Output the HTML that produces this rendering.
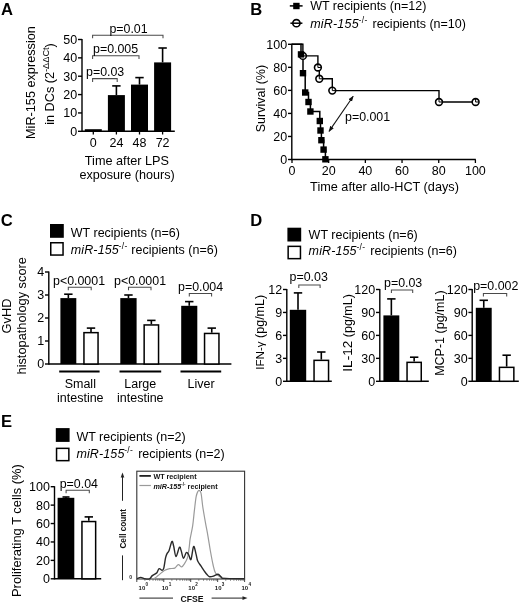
<!DOCTYPE html>
<html><head><meta charset="utf-8"><style>
html,body{margin:0;padding:0;background:#fff;width:520px;height:603px;overflow:hidden}
svg{display:block;filter:blur(0.4px)}
text{font-family:"Liberation Sans", sans-serif}
</style></head><body>
<svg width="520" height="603" viewBox="0 0 520 603" font-family='"Liberation Sans", sans-serif'>
<rect width="520" height="603" fill="#fff"/>
<text x="0.90" y="15.00" font-size="16.6" text-anchor="start" font-weight="bold" font-style="normal" fill="#000" >A</text>
<line x1="82.00" y1="39.00" x2="82.00" y2="132.00" stroke="#000" stroke-width="1.4" />
<line x1="78.00" y1="131.30" x2="82.00" y2="131.30" stroke="#000" stroke-width="1.4" />
<text x="77.20" y="135.78" font-size="12.5" text-anchor="end" font-weight="normal" font-style="normal" fill="#000" >0</text>
<line x1="78.00" y1="112.94" x2="82.00" y2="112.94" stroke="#000" stroke-width="1.4" />
<text x="77.20" y="117.42" font-size="12.5" text-anchor="end" font-weight="normal" font-style="normal" fill="#000" >10</text>
<line x1="78.00" y1="94.58" x2="82.00" y2="94.58" stroke="#000" stroke-width="1.4" />
<text x="77.20" y="99.06" font-size="12.5" text-anchor="end" font-weight="normal" font-style="normal" fill="#000" >20</text>
<line x1="78.00" y1="76.22" x2="82.00" y2="76.22" stroke="#000" stroke-width="1.4" />
<text x="77.20" y="80.69" font-size="12.5" text-anchor="end" font-weight="normal" font-style="normal" fill="#000" >30</text>
<line x1="78.00" y1="57.86" x2="82.00" y2="57.86" stroke="#000" stroke-width="1.4" />
<text x="77.20" y="62.34" font-size="12.5" text-anchor="end" font-weight="normal" font-style="normal" fill="#000" >40</text>
<line x1="78.00" y1="39.50" x2="82.00" y2="39.50" stroke="#000" stroke-width="1.4" />
<text x="77.20" y="43.98" font-size="12.5" text-anchor="end" font-weight="normal" font-style="normal" fill="#000" >50</text>
<line x1="82.00" y1="131.30" x2="174.80" y2="131.30" stroke="#000" stroke-width="1.4" />
<line x1="93.30" y1="131.30" x2="93.30" y2="134.50" stroke="#000" stroke-width="1.3" />
<text x="93.30" y="146.60" font-size="12.5" text-anchor="middle" font-weight="normal" font-style="normal" fill="#000" >0</text>
<line x1="116.40" y1="131.30" x2="116.40" y2="134.50" stroke="#000" stroke-width="1.3" />
<text x="116.40" y="146.60" font-size="12.5" text-anchor="middle" font-weight="normal" font-style="normal" fill="#000" >24</text>
<line x1="139.50" y1="131.30" x2="139.50" y2="134.50" stroke="#000" stroke-width="1.3" />
<text x="139.50" y="146.60" font-size="12.5" text-anchor="middle" font-weight="normal" font-style="normal" fill="#000" >48</text>
<line x1="162.60" y1="131.30" x2="162.60" y2="134.50" stroke="#000" stroke-width="1.3" />
<text x="162.60" y="146.60" font-size="12.5" text-anchor="middle" font-weight="normal" font-style="normal" fill="#000" >72</text>
<rect x="84.80" y="129.20" width="17.00" height="2.10" fill="#000" stroke="none" stroke-width="0"/>
<rect x="107.90" y="95.10" width="17.00" height="36.20" fill="#000" stroke="none" stroke-width="0"/>
<line x1="116.40" y1="95.10" x2="116.40" y2="85.90" stroke="#000" stroke-width="1.6" />
<line x1="112.20" y1="85.90" x2="120.60" y2="85.90" stroke="#000" stroke-width="1.6" />
<rect x="131.00" y="84.60" width="17.00" height="46.70" fill="#000" stroke="none" stroke-width="0"/>
<line x1="139.50" y1="84.60" x2="139.50" y2="77.60" stroke="#000" stroke-width="1.6" />
<line x1="135.30" y1="77.60" x2="143.70" y2="77.60" stroke="#000" stroke-width="1.6" />
<rect x="154.10" y="62.40" width="17.00" height="68.90" fill="#000" stroke="none" stroke-width="0"/>
<line x1="162.60" y1="62.40" x2="162.60" y2="48.00" stroke="#000" stroke-width="1.6" />
<line x1="158.40" y1="48.00" x2="166.80" y2="48.00" stroke="#000" stroke-width="1.6" />
<path d="M92.60,82.00 V78.60 H117.20 V82.00" fill="none" stroke="#4a4a4a" stroke-width="1.05"/>
<path d="M92.60,58.90 V55.70 H139.00 V58.90" fill="none" stroke="#4a4a4a" stroke-width="1.05"/>
<path d="M92.60,38.30 V35.30 H163.00 V38.30" fill="none" stroke="#4a4a4a" stroke-width="1.05"/>
<text x="86.00" y="75.90" font-size="12.4" text-anchor="start" font-weight="normal" font-style="normal" fill="#000" >p=0.03</text>
<text x="93.00" y="53.00" font-size="12.4" text-anchor="start" font-weight="normal" font-style="normal" fill="#000" >p=0.005</text>
<text x="109.40" y="32.80" font-size="12.4" text-anchor="start" font-weight="normal" font-style="normal" fill="#000" >p=0.01</text>
<text x="126.90" y="165.00" font-size="12.7" text-anchor="middle" font-weight="normal" font-style="normal" fill="#000" >Time after LPS</text>
<text x="127.10" y="178.70" font-size="12.6" text-anchor="middle" font-weight="normal" font-style="normal" fill="#000" >exposure (hours)</text>
<text transform="translate(35.20,82.60) rotate(-90)" x="0" y="0" font-size="12.7" text-anchor="middle" >MiR-155 expression</text>
<text transform="translate(53.70,84.00) rotate(-90)" x="0" y="0" font-size="12.7" text-anchor="middle" >in DCs (2<tspan font-size="9.2" dy="-5.2">-ΔΔCt</tspan><tspan dy="5.2">)</tspan></text>
<text x="250.20" y="15.00" font-size="16.6" text-anchor="start" font-weight="bold" font-style="normal" fill="#000" >B</text>
<line x1="289.80" y1="5.90" x2="302.60" y2="5.90" stroke="#000" stroke-width="1.5" />
<rect x="293.20" y="2.80" width="6.40" height="6.40" fill="#000" stroke="none" stroke-width="0"/>
<text x="310.20" y="10.30" font-size="12.5" text-anchor="start" font-weight="normal" font-style="normal" fill="#000" >WT recipients (n=12)</text>
<line x1="290.40" y1="23.20" x2="302.40" y2="23.20" stroke="#000" stroke-width="1.5" />
<circle cx="296.4" cy="23.2" r="3.6" fill="#fff" stroke="#000" stroke-width="1.6"/>
<line x1="292.80" y1="23.20" x2="300.00" y2="23.20" stroke="#000" stroke-width="1.5" />
<text x="310.20" y="27.80" font-size="12.5" text-anchor="start" font-weight="normal" font-style="normal" fill="#000" ><tspan font-style="italic" letter-spacing="0.2">miR-155</tspan><tspan font-size="8.5" dy="-4.9" dx="-0.3" letter-spacing="0.35">-/-</tspan><tspan dy="4.9" dx="1.4"> recipients (n=10)</tspan></text>
<line x1="291.80" y1="43.80" x2="291.80" y2="160.20" stroke="#000" stroke-width="1.4" />
<line x1="288.00" y1="159.50" x2="291.80" y2="159.50" stroke="#000" stroke-width="1.4" />
<text x="287.20" y="163.97" font-size="12.5" text-anchor="end" font-weight="normal" font-style="normal" fill="#000" >0</text>
<line x1="288.00" y1="136.46" x2="291.80" y2="136.46" stroke="#000" stroke-width="1.4" />
<text x="287.20" y="140.94" font-size="12.5" text-anchor="end" font-weight="normal" font-style="normal" fill="#000" >20</text>
<line x1="288.00" y1="113.42" x2="291.80" y2="113.42" stroke="#000" stroke-width="1.4" />
<text x="287.20" y="117.89" font-size="12.5" text-anchor="end" font-weight="normal" font-style="normal" fill="#000" >40</text>
<line x1="288.00" y1="90.38" x2="291.80" y2="90.38" stroke="#000" stroke-width="1.4" />
<text x="287.20" y="94.86" font-size="12.5" text-anchor="end" font-weight="normal" font-style="normal" fill="#000" >60</text>
<line x1="288.00" y1="67.34" x2="291.80" y2="67.34" stroke="#000" stroke-width="1.4" />
<text x="287.20" y="71.81" font-size="12.5" text-anchor="end" font-weight="normal" font-style="normal" fill="#000" >80</text>
<line x1="288.00" y1="44.30" x2="291.80" y2="44.30" stroke="#000" stroke-width="1.4" />
<text x="287.20" y="48.78" font-size="12.5" text-anchor="end" font-weight="normal" font-style="normal" fill="#000" >100</text>
<line x1="291.80" y1="159.50" x2="475.80" y2="159.50" stroke="#000" stroke-width="1.4" />
<line x1="292.00" y1="159.50" x2="292.00" y2="163.00" stroke="#000" stroke-width="1.3" />
<text x="292.00" y="175.30" font-size="12.5" text-anchor="middle" font-weight="normal" font-style="normal" fill="#000" >0</text>
<line x1="328.68" y1="159.50" x2="328.68" y2="163.00" stroke="#000" stroke-width="1.3" />
<text x="328.68" y="175.30" font-size="12.5" text-anchor="middle" font-weight="normal" font-style="normal" fill="#000" >20</text>
<line x1="365.36" y1="159.50" x2="365.36" y2="163.00" stroke="#000" stroke-width="1.3" />
<text x="365.36" y="175.30" font-size="12.5" text-anchor="middle" font-weight="normal" font-style="normal" fill="#000" >40</text>
<line x1="402.04" y1="159.50" x2="402.04" y2="163.00" stroke="#000" stroke-width="1.3" />
<text x="402.04" y="175.30" font-size="12.5" text-anchor="middle" font-weight="normal" font-style="normal" fill="#000" >60</text>
<line x1="438.72" y1="159.50" x2="438.72" y2="163.00" stroke="#000" stroke-width="1.3" />
<text x="438.72" y="175.30" font-size="12.5" text-anchor="middle" font-weight="normal" font-style="normal" fill="#000" >80</text>
<line x1="475.40" y1="159.50" x2="475.40" y2="163.00" stroke="#000" stroke-width="1.3" />
<text x="475.40" y="175.30" font-size="12.5" text-anchor="middle" font-weight="normal" font-style="normal" fill="#000" >100</text>
<text x="384.50" y="191.40" font-size="12.7" text-anchor="middle" font-weight="normal" font-style="normal" fill="#000" >Time after allo-HCT (days)</text>
<text transform="translate(265.40,98.60) rotate(-90)" x="0" y="0" font-size="12.5" text-anchor="middle" >Survival (%)</text>
<path d="M291.8,44.3 H302.9 V55.9 H317.9 V67.5 H319.3 V78.8 H332.3 V90.6 H439.0 V102.0 H475.6" fill="none" stroke="#000" stroke-width="1.4"/>
<path d="M291.8,44.3 H302.4 H301.0 V54.4 H303.0 V73.2 H305.2 V92.5 H308.5 V102.0 H310.4 V111.5 H319.8 V121.0 H320.5 V130.5 H321.4 V140.2 H323.6 V149.6 H325.4 V159.3" fill="none" stroke="#000" stroke-width="1.5"/>
<circle cx="302.9" cy="55.9" r="3.4" fill="#fff" stroke="#000" stroke-width="1.6"/>
<path d="M302.9,52.9 V55.9 H305.9" fill="none" stroke="#000" stroke-width="1"/>
<circle cx="317.9" cy="67.5" r="3.4" fill="#fff" stroke="#000" stroke-width="1.6"/>
<path d="M317.9,64.5 V67.5 H320.9" fill="none" stroke="#000" stroke-width="1"/>
<circle cx="319.3" cy="78.8" r="3.4" fill="#fff" stroke="#000" stroke-width="1.6"/>
<path d="M319.3,75.8 V78.8 H322.3" fill="none" stroke="#000" stroke-width="1"/>
<circle cx="332.3" cy="90.6" r="3.4" fill="#fff" stroke="#000" stroke-width="1.6"/>
<path d="M332.3,87.6 V90.6 H335.3" fill="none" stroke="#000" stroke-width="1"/>
<circle cx="439.0" cy="102.0" r="3.4" fill="#fff" stroke="#000" stroke-width="1.6"/>
<path d="M439.0,99.0 V102.0 H442.0" fill="none" stroke="#000" stroke-width="1"/>
<circle cx="475.6" cy="102.0" r="3.4" fill="#fff" stroke="#000" stroke-width="1.6"/>
<path d="M475.6,99.0 V102.0 H478.6" fill="none" stroke="#000" stroke-width="1"/>
<rect x="297.80" y="51.20" width="6.40" height="6.40" fill="#000" stroke="none" stroke-width="0"/>
<rect x="299.80" y="70.00" width="6.40" height="6.40" fill="#000" stroke="none" stroke-width="0"/>
<rect x="302.00" y="89.30" width="6.40" height="6.40" fill="#000" stroke="none" stroke-width="0"/>
<rect x="305.30" y="98.80" width="6.40" height="6.40" fill="#000" stroke="none" stroke-width="0"/>
<rect x="307.20" y="108.30" width="6.40" height="6.40" fill="#000" stroke="none" stroke-width="0"/>
<rect x="316.60" y="117.80" width="6.40" height="6.40" fill="#000" stroke="none" stroke-width="0"/>
<rect x="317.30" y="127.30" width="6.40" height="6.40" fill="#000" stroke="none" stroke-width="0"/>
<rect x="318.20" y="137.00" width="6.40" height="6.40" fill="#000" stroke="none" stroke-width="0"/>
<rect x="320.40" y="146.40" width="6.40" height="6.40" fill="#000" stroke="none" stroke-width="0"/>
<rect x="322.20" y="156.10" width="6.40" height="6.40" fill="#000" stroke="none" stroke-width="0"/>
<defs><marker id="ah" viewBox="0 0 10 10" refX="9" refY="5" markerWidth="5.6" markerHeight="5.6" orient="auto-start-reverse"><path d="M0,1.4 L10,5 L0,8.6 z" fill="#111"/></marker></defs>
<line x1="329.0" y1="131.4" x2="353.2" y2="96.2" stroke="#111" stroke-width="1.05" marker-start="url(#ah)" marker-end="url(#ah)"/>
<text x="345.00" y="120.70" font-size="12.4" text-anchor="start" font-weight="normal" font-style="normal" fill="#000" >p=0.001</text>
<text x="0.70" y="226.30" font-size="16.6" text-anchor="start" font-weight="bold" font-style="normal" fill="#000" >C</text>
<rect x="50.00" y="224.00" width="13.80" height="13.80" fill="#000" stroke="none" stroke-width="0"/>
<rect x="50.75" y="242.75" width="12.30" height="12.30" fill="#fff" stroke="#000" stroke-width="1.5"/>
<text x="70.80" y="237.30" font-size="12.5" text-anchor="start" font-weight="normal" font-style="normal" fill="#000" >WT recipients (n=6)</text>
<text x="70.80" y="253.60" font-size="12.5" text-anchor="start" font-weight="normal" font-style="normal" fill="#000" ><tspan font-style="italic" letter-spacing="0.12">miR-155</tspan><tspan font-size="8.5" dy="-4.9" dx="-0.3" letter-spacing="0.35">-/-</tspan><tspan dy="4.9" dx="0.2"> recipients (n=6)</tspan></text>
<line x1="48.80" y1="271.40" x2="48.80" y2="364.70" stroke="#000" stroke-width="1.4" />
<line x1="45.00" y1="364.00" x2="48.80" y2="364.00" stroke="#000" stroke-width="1.4" />
<text x="44.20" y="368.48" font-size="12.5" text-anchor="end" font-weight="normal" font-style="normal" fill="#000" >0</text>
<line x1="45.00" y1="341.00" x2="48.80" y2="341.00" stroke="#000" stroke-width="1.4" />
<text x="44.20" y="345.48" font-size="12.5" text-anchor="end" font-weight="normal" font-style="normal" fill="#000" >1</text>
<line x1="45.00" y1="318.00" x2="48.80" y2="318.00" stroke="#000" stroke-width="1.4" />
<text x="44.20" y="322.48" font-size="12.5" text-anchor="end" font-weight="normal" font-style="normal" fill="#000" >2</text>
<line x1="45.00" y1="295.00" x2="48.80" y2="295.00" stroke="#000" stroke-width="1.4" />
<text x="44.20" y="299.48" font-size="12.5" text-anchor="end" font-weight="normal" font-style="normal" fill="#000" >3</text>
<line x1="45.00" y1="272.00" x2="48.80" y2="272.00" stroke="#000" stroke-width="1.4" />
<text x="44.20" y="276.48" font-size="12.5" text-anchor="end" font-weight="normal" font-style="normal" fill="#000" >4</text>
<line x1="48.80" y1="364.00" x2="231.40" y2="364.00" stroke="#000" stroke-width="1.4" />
<rect x="60.40" y="298.10" width="15.90" height="65.90" fill="#000" stroke="none" stroke-width="0"/>
<line x1="68.35" y1="298.10" x2="68.35" y2="294.20" stroke="#000" stroke-width="1.6" />
<line x1="64.15" y1="294.20" x2="72.55" y2="294.20" stroke="#000" stroke-width="1.6" />
<rect x="83.95" y="332.65" width="14.10" height="31.35" fill="#fff" stroke="#000" stroke-width="1.5"/>
<line x1="91.00" y1="331.90" x2="91.00" y2="328.10" stroke="#000" stroke-width="1.6" />
<line x1="86.80" y1="328.10" x2="95.20" y2="328.10" stroke="#000" stroke-width="1.6" />
<rect x="120.30" y="298.10" width="16.30" height="65.90" fill="#000" stroke="none" stroke-width="0"/>
<line x1="128.45" y1="298.10" x2="128.45" y2="295.00" stroke="#000" stroke-width="1.6" />
<line x1="124.25" y1="295.00" x2="132.65" y2="295.00" stroke="#000" stroke-width="1.6" />
<rect x="144.15" y="324.95" width="14.40" height="39.05" fill="#fff" stroke="#000" stroke-width="1.5"/>
<line x1="151.35" y1="324.20" x2="151.35" y2="320.40" stroke="#000" stroke-width="1.6" />
<line x1="147.15" y1="320.40" x2="155.55" y2="320.40" stroke="#000" stroke-width="1.6" />
<rect x="181.20" y="305.80" width="16.10" height="58.20" fill="#000" stroke="none" stroke-width="0"/>
<line x1="189.25" y1="305.80" x2="189.25" y2="301.60" stroke="#000" stroke-width="1.6" />
<line x1="185.05" y1="301.60" x2="193.45" y2="301.60" stroke="#000" stroke-width="1.6" />
<rect x="204.55" y="333.45" width="14.40" height="30.55" fill="#fff" stroke="#000" stroke-width="1.5"/>
<line x1="211.75" y1="332.70" x2="211.75" y2="328.10" stroke="#000" stroke-width="1.6" />
<line x1="207.55" y1="328.10" x2="215.95" y2="328.10" stroke="#000" stroke-width="1.6" />
<path d="M68.30,290.30 V287.30 H91.20 V290.30" fill="none" stroke="#4a4a4a" stroke-width="1.05"/>
<path d="M128.50,290.30 V287.30 H151.00 V290.30" fill="none" stroke="#4a4a4a" stroke-width="1.05"/>
<path d="M189.30,296.50 V293.50 H211.60 V296.50" fill="none" stroke="#4a4a4a" stroke-width="1.05"/>
<text x="53.00" y="285.10" font-size="12.4" text-anchor="start" font-weight="normal" font-style="normal" fill="#000" >p&lt;0.0001</text>
<text x="114.00" y="285.10" font-size="12.4" text-anchor="start" font-weight="normal" font-style="normal" fill="#000" >p&lt;0.0001</text>
<text x="178.00" y="290.50" font-size="12.4" text-anchor="start" font-weight="normal" font-style="normal" fill="#000" >p=0.004</text>
<line x1="59.20" y1="371.50" x2="99.60" y2="371.50" stroke="#000" stroke-width="2.0" />
<line x1="119.50" y1="371.50" x2="161.20" y2="371.50" stroke="#000" stroke-width="2.0" />
<line x1="180.50" y1="371.50" x2="221.20" y2="371.50" stroke="#000" stroke-width="2.0" />
<text x="80.30" y="387.60" font-size="12.5" text-anchor="middle" font-weight="normal" font-style="normal" fill="#000" >Small</text>
<text x="80.30" y="401.90" font-size="12.5" text-anchor="middle" font-weight="normal" font-style="normal" fill="#000" >intestine</text>
<text x="140.30" y="387.60" font-size="12.5" text-anchor="middle" font-weight="normal" font-style="normal" fill="#000" >Large</text>
<text x="140.30" y="401.90" font-size="12.5" text-anchor="middle" font-weight="normal" font-style="normal" fill="#000" >intestine</text>
<text x="201.00" y="387.60" font-size="12.5" text-anchor="middle" font-weight="normal" font-style="normal" fill="#000" >Liver</text>
<text transform="translate(10.80,316.00) rotate(-90)" x="0" y="0" font-size="12.8" text-anchor="middle" >GvHD</text>
<text transform="translate(26.00,315.80) rotate(-90)" x="0" y="0" font-size="12.8" text-anchor="middle" >histopathology score</text>
<text x="250.20" y="226.30" font-size="16.6" text-anchor="start" font-weight="bold" font-style="normal" fill="#000" >D</text>
<rect x="287.40" y="227.70" width="13.80" height="13.80" fill="#000" stroke="none" stroke-width="0"/>
<rect x="288.15" y="246.35" width="12.30" height="12.30" fill="#fff" stroke="#000" stroke-width="1.5"/>
<text x="308.60" y="239.20" font-size="12.5" text-anchor="start" font-weight="normal" font-style="normal" fill="#000" >WT recipients (n=6)</text>
<text x="308.60" y="254.60" font-size="12.5" text-anchor="start" font-weight="normal" font-style="normal" fill="#000" ><tspan font-style="italic" letter-spacing="0.12">miR-155</tspan><tspan font-size="8.5" dy="-4.9" dx="-0.3" letter-spacing="0.35">-/-</tspan><tspan dy="4.9" dx="1.4"> recipients (n=6)</tspan></text>
<line x1="286.80" y1="289.00" x2="286.80" y2="382.00" stroke="#000" stroke-width="1.4" />
<line x1="283.00" y1="381.30" x2="286.80" y2="381.30" stroke="#000" stroke-width="1.4" />
<text x="282.20" y="385.78" font-size="12.5" text-anchor="end" font-weight="normal" font-style="normal" fill="#000" >0</text>
<line x1="283.00" y1="358.35" x2="286.80" y2="358.35" stroke="#000" stroke-width="1.4" />
<text x="282.20" y="362.83" font-size="12.5" text-anchor="end" font-weight="normal" font-style="normal" fill="#000" >3</text>
<line x1="283.00" y1="335.40" x2="286.80" y2="335.40" stroke="#000" stroke-width="1.4" />
<text x="282.20" y="339.88" font-size="12.5" text-anchor="end" font-weight="normal" font-style="normal" fill="#000" >6</text>
<line x1="283.00" y1="312.45" x2="286.80" y2="312.45" stroke="#000" stroke-width="1.4" />
<text x="282.20" y="316.93" font-size="12.5" text-anchor="end" font-weight="normal" font-style="normal" fill="#000" >9</text>
<line x1="283.00" y1="289.50" x2="286.80" y2="289.50" stroke="#000" stroke-width="1.4" />
<text x="282.20" y="293.98" font-size="12.5" text-anchor="end" font-weight="normal" font-style="normal" fill="#000" >12</text>
<line x1="286.80" y1="381.30" x2="331.80" y2="381.30" stroke="#000" stroke-width="1.4" />
<rect x="289.80" y="309.80" width="16.40" height="71.50" fill="#000" stroke="none" stroke-width="0"/>
<line x1="298.00" y1="309.80" x2="298.00" y2="292.90" stroke="#000" stroke-width="1.6" />
<line x1="293.80" y1="292.90" x2="302.20" y2="292.90" stroke="#000" stroke-width="1.6" />
<rect x="314.05" y="360.35" width="14.50" height="20.95" fill="#fff" stroke="#000" stroke-width="1.5"/>
<line x1="321.30" y1="359.60" x2="321.30" y2="352.00" stroke="#000" stroke-width="1.6" />
<line x1="317.10" y1="352.00" x2="325.50" y2="352.00" stroke="#000" stroke-width="1.6" />
<path d="M298.80,287.90 V284.90 H320.10 V287.90" fill="none" stroke="#4a4a4a" stroke-width="1.05"/>
<text x="289.60" y="281.10" font-size="12.4" text-anchor="start" font-weight="normal" font-style="normal" fill="#000" >p=0.03</text>
<text transform="translate(263.80,332.30) rotate(-90)" x="0" y="0" font-size="12.5" text-anchor="middle" ><tspan font-size="11.6">IFN-γ</tspan> (pg/mL)</text>
<line x1="379.80" y1="289.00" x2="379.80" y2="382.00" stroke="#000" stroke-width="1.4" />
<line x1="376.00" y1="381.30" x2="379.80" y2="381.30" stroke="#000" stroke-width="1.4" />
<text x="375.20" y="385.78" font-size="12.5" text-anchor="end" font-weight="normal" font-style="normal" fill="#000" >0</text>
<line x1="376.00" y1="358.35" x2="379.80" y2="358.35" stroke="#000" stroke-width="1.4" />
<text x="375.20" y="362.83" font-size="12.5" text-anchor="end" font-weight="normal" font-style="normal" fill="#000" >30</text>
<line x1="376.00" y1="335.40" x2="379.80" y2="335.40" stroke="#000" stroke-width="1.4" />
<text x="375.20" y="339.88" font-size="12.5" text-anchor="end" font-weight="normal" font-style="normal" fill="#000" >60</text>
<line x1="376.00" y1="312.45" x2="379.80" y2="312.45" stroke="#000" stroke-width="1.4" />
<text x="375.20" y="316.93" font-size="12.5" text-anchor="end" font-weight="normal" font-style="normal" fill="#000" >90</text>
<line x1="376.00" y1="289.50" x2="379.80" y2="289.50" stroke="#000" stroke-width="1.4" />
<text x="375.20" y="293.98" font-size="12.5" text-anchor="end" font-weight="normal" font-style="normal" fill="#000" >120</text>
<line x1="379.80" y1="381.30" x2="428.80" y2="381.30" stroke="#000" stroke-width="1.4" />
<rect x="383.40" y="315.40" width="15.90" height="65.90" fill="#000" stroke="none" stroke-width="0"/>
<line x1="391.35" y1="315.40" x2="391.35" y2="298.90" stroke="#000" stroke-width="1.6" />
<line x1="387.15" y1="298.90" x2="395.55" y2="298.90" stroke="#000" stroke-width="1.6" />
<rect x="407.05" y="362.35" width="14.20" height="18.95" fill="#fff" stroke="#000" stroke-width="1.5"/>
<line x1="414.15" y1="361.60" x2="414.15" y2="357.20" stroke="#000" stroke-width="1.6" />
<line x1="409.95" y1="357.20" x2="418.35" y2="357.20" stroke="#000" stroke-width="1.6" />
<path d="M391.40,292.90 V289.90 H412.70 V292.90" fill="none" stroke="#4a4a4a" stroke-width="1.05"/>
<text x="384.00" y="287.00" font-size="12.4" text-anchor="start" font-weight="normal" font-style="normal" fill="#000" >p=0.03</text>
<text transform="translate(351.80,332.90) rotate(-90)" x="0" y="0" font-size="12.5" text-anchor="middle" ><tspan font-size="13.6">IL-12</tspan> (pg/mL)</text>
<line x1="472.20" y1="289.00" x2="472.20" y2="382.00" stroke="#000" stroke-width="1.4" />
<line x1="468.40" y1="381.30" x2="472.20" y2="381.30" stroke="#000" stroke-width="1.4" />
<text x="467.60" y="385.78" font-size="12.5" text-anchor="end" font-weight="normal" font-style="normal" fill="#000" >0</text>
<line x1="468.40" y1="358.35" x2="472.20" y2="358.35" stroke="#000" stroke-width="1.4" />
<text x="467.60" y="362.83" font-size="12.5" text-anchor="end" font-weight="normal" font-style="normal" fill="#000" >30</text>
<line x1="468.40" y1="335.40" x2="472.20" y2="335.40" stroke="#000" stroke-width="1.4" />
<text x="467.60" y="339.88" font-size="12.5" text-anchor="end" font-weight="normal" font-style="normal" fill="#000" >60</text>
<line x1="468.40" y1="312.45" x2="472.20" y2="312.45" stroke="#000" stroke-width="1.4" />
<text x="467.60" y="316.93" font-size="12.5" text-anchor="end" font-weight="normal" font-style="normal" fill="#000" >90</text>
<line x1="468.40" y1="289.50" x2="472.20" y2="289.50" stroke="#000" stroke-width="1.4" />
<text x="467.60" y="293.98" font-size="12.5" text-anchor="end" font-weight="normal" font-style="normal" fill="#000" >120</text>
<line x1="472.20" y1="381.30" x2="518.80" y2="381.30" stroke="#000" stroke-width="1.4" />
<rect x="475.80" y="307.80" width="15.90" height="73.50" fill="#000" stroke="none" stroke-width="0"/>
<line x1="483.75" y1="307.80" x2="483.75" y2="300.30" stroke="#000" stroke-width="1.6" />
<line x1="479.55" y1="300.30" x2="487.95" y2="300.30" stroke="#000" stroke-width="1.6" />
<rect x="499.45" y="367.35" width="14.40" height="13.95" fill="#fff" stroke="#000" stroke-width="1.5"/>
<line x1="506.65" y1="366.60" x2="506.65" y2="355.20" stroke="#000" stroke-width="1.6" />
<line x1="502.45" y1="355.20" x2="510.85" y2="355.20" stroke="#000" stroke-width="1.6" />
<path d="M483.40,296.50 V293.50 H506.70 V296.50" fill="none" stroke="#4a4a4a" stroke-width="1.05"/>
<text x="473.20" y="290.00" font-size="12.4" text-anchor="start" font-weight="normal" font-style="normal" fill="#000" >p=0.002</text>
<text transform="translate(443.80,333.10) rotate(-90)" x="0" y="0" font-size="12.5" text-anchor="middle" >MCP-1 (pg/mL)</text>
<text x="1.10" y="427.40" font-size="16.6" text-anchor="start" font-weight="bold" font-style="normal" fill="#000" >E</text>
<rect x="55.80" y="428.10" width="13.80" height="13.80" fill="#000" stroke="none" stroke-width="0"/>
<rect x="56.55" y="448.35" width="12.30" height="12.30" fill="#fff" stroke="#000" stroke-width="1.5"/>
<text x="76.40" y="440.60" font-size="12.5" text-anchor="start" font-weight="normal" font-style="normal" fill="#000" >WT recipients (n=2)</text>
<text x="76.40" y="457.60" font-size="12.5" text-anchor="start" font-weight="normal" font-style="normal" fill="#000" ><tspan font-style="italic" letter-spacing="0.12">miR-155</tspan><tspan font-size="8.5" dy="-4.9" dx="-0.3" letter-spacing="0.35">-/-</tspan><tspan dy="4.9" dx="1.4"> recipients (n=2)</tspan></text>
<line x1="54.50" y1="486.20" x2="54.50" y2="579.50" stroke="#000" stroke-width="1.4" />
<line x1="50.70" y1="578.80" x2="54.50" y2="578.80" stroke="#000" stroke-width="1.4" />
<text x="49.90" y="583.27" font-size="12.5" text-anchor="end" font-weight="normal" font-style="normal" fill="#000" >0</text>
<line x1="50.70" y1="560.38" x2="54.50" y2="560.38" stroke="#000" stroke-width="1.4" />
<text x="49.90" y="564.86" font-size="12.5" text-anchor="end" font-weight="normal" font-style="normal" fill="#000" >20</text>
<line x1="50.70" y1="541.96" x2="54.50" y2="541.96" stroke="#000" stroke-width="1.4" />
<text x="49.90" y="546.43" font-size="12.5" text-anchor="end" font-weight="normal" font-style="normal" fill="#000" >40</text>
<line x1="50.70" y1="523.54" x2="54.50" y2="523.54" stroke="#000" stroke-width="1.4" />
<text x="49.90" y="528.01" font-size="12.5" text-anchor="end" font-weight="normal" font-style="normal" fill="#000" >60</text>
<line x1="50.70" y1="505.12" x2="54.50" y2="505.12" stroke="#000" stroke-width="1.4" />
<text x="49.90" y="509.59" font-size="12.5" text-anchor="end" font-weight="normal" font-style="normal" fill="#000" >80</text>
<line x1="50.70" y1="486.70" x2="54.50" y2="486.70" stroke="#000" stroke-width="1.4" />
<text x="49.90" y="491.17" font-size="12.5" text-anchor="end" font-weight="normal" font-style="normal" fill="#000" >100</text>
<line x1="54.50" y1="578.80" x2="101.20" y2="578.80" stroke="#000" stroke-width="1.4" />
<rect x="57.60" y="497.80" width="16.70" height="81.00" fill="#000" stroke="none" stroke-width="0"/>
<line x1="66.00" y1="497.80" x2="66.00" y2="497.00" stroke="#000" stroke-width="1.6" />
<line x1="62.50" y1="497.00" x2="69.50" y2="497.00" stroke="#000" stroke-width="1.6" />
<rect x="81.95" y="521.55" width="13.70" height="57.25" fill="#fff" stroke="#000" stroke-width="1.5"/>
<line x1="88.80" y1="520.80" x2="88.80" y2="516.90" stroke="#000" stroke-width="1.6" />
<line x1="84.60" y1="516.90" x2="93.00" y2="516.90" stroke="#000" stroke-width="1.6" />
<path d="M66.10,493.20 V490.20 H89.30 V493.20" fill="none" stroke="#4a4a4a" stroke-width="1.05"/>
<text x="59.70" y="487.50" font-size="12.4" text-anchor="start" font-weight="normal" font-style="normal" fill="#000" >p=0.04</text>
<text transform="translate(20.90,530.60) rotate(-90)" x="0" y="0" font-size="12.9" text-anchor="middle" >Proliferating T cells (%)</text>
<rect x="136.8" y="471.2" width="107.8" height="107.8" fill="none" stroke="#333" stroke-width="1.1"/>
<line x1="139.40" y1="475.90" x2="150.90" y2="475.90" stroke="#222" stroke-width="1.8" />
<line x1="139.40" y1="485.50" x2="150.90" y2="485.50" stroke="#9a9a9a" stroke-width="1.2" />
<text x="153.40" y="479.30" font-size="7.2" text-anchor="start" font-weight="bold" font-style="normal" fill="#111" >WT recipient</text>
<text x="153.40" y="488.70" font-size="7.2" text-anchor="start" font-weight="bold" font-style="normal" fill="#111" ><tspan font-style="italic">miR-155</tspan><tspan font-size="4.5" dy="-3">-/-</tspan><tspan dy="3"> recipient</tspan></text>
<path d="M137.00,579.00 C139.55,579.00 148.78,579.57 152.30,579.00 C155.82,578.43 156.08,577.03 158.10,575.60 C160.12,574.17 162.48,571.55 164.40,570.40 C166.32,569.25 167.87,569.08 169.60,568.70 C171.33,568.32 173.35,568.78 174.80,568.10 C176.25,567.42 177.15,564.80 178.30,564.60 C179.45,564.40 180.65,567.08 181.70,566.90 C182.75,566.72 183.63,565.03 184.60,563.50 C185.57,561.97 186.73,560.40 187.50,557.70 C188.27,555.00 188.77,550.38 189.20,547.30 C189.63,544.22 189.52,542.82 190.10,539.20 C190.68,535.58 191.98,530.40 192.70,525.60 C193.42,520.80 193.83,515.18 194.40,510.40 C194.97,505.62 195.55,500.00 196.10,496.90 C196.65,493.80 197.15,492.87 197.70,491.80 C198.25,490.73 198.83,490.22 199.40,490.50 C199.97,490.78 200.53,490.75 201.10,493.50 C201.67,496.25 202.08,502.20 202.80,507.00 C203.52,511.80 204.55,517.50 205.40,522.30 C206.25,527.10 207.07,531.02 207.90,535.80 C208.73,540.58 209.55,546.22 210.40,551.00 C211.25,555.78 212.15,560.83 213.00,564.50 C213.85,568.17 214.23,570.88 215.50,573.00 C216.77,575.12 219.18,576.30 220.60,577.20 C222.02,578.10 220.10,578.13 224.00,578.40 C227.90,578.67 240.67,578.73 244.00,578.80" fill="none" stroke="#9a9a9a" stroke-width="1.2" stroke-linejoin="round"/>
<path d="M137.00,578.60 C137.63,578.40 139.47,577.37 140.80,577.40 C142.13,577.43 143.57,578.55 145.00,578.80 C146.43,579.05 148.18,579.43 149.40,578.90 C150.62,578.37 151.33,576.45 152.30,575.60 C153.27,574.75 154.43,574.28 155.20,573.80 C155.97,573.32 156.23,573.55 156.90,572.70 C157.57,571.85 158.33,569.08 159.20,568.70 C160.07,568.32 161.33,570.50 162.10,570.40 C162.87,570.30 163.22,570.22 163.80,568.10 C164.38,565.98 165.02,560.20 165.60,557.70 C166.18,555.20 166.73,554.25 167.30,553.10 C167.87,551.95 168.23,552.73 169.00,550.80 C169.77,548.87 171.12,542.27 171.90,541.50 C172.68,540.73 173.02,543.70 173.70,546.20 C174.38,548.70 175.05,556.32 176.00,556.50 C176.95,556.68 178.53,548.25 179.40,547.30 C180.27,546.35 180.52,548.97 181.20,550.80 C181.88,552.63 182.65,558.02 183.50,558.30 C184.35,558.58 185.43,553.08 186.30,552.50 C187.17,551.92 187.92,553.63 188.70,554.80 C189.48,555.97 190.18,560.88 191.00,559.50 C191.82,558.12 192.75,547.35 193.60,546.50 C194.45,545.65 195.42,551.97 196.10,554.40 C196.78,556.83 196.87,559.13 197.70,561.10 C198.53,563.07 199.97,564.50 201.10,566.20 C202.23,567.90 203.52,569.90 204.50,571.30 C205.48,572.70 206.15,573.70 207.00,574.60 C207.85,575.50 208.47,576.47 209.60,576.70 C210.73,576.93 212.40,576.40 213.80,576.00 C215.20,575.60 216.73,574.10 218.00,574.30 C219.27,574.50 220.40,576.52 221.40,577.20 C222.40,577.88 220.23,578.13 224.00,578.40 C227.77,578.67 240.67,578.73 244.00,578.80" fill="none" stroke="#2a2a2a" stroke-width="1.4" stroke-linejoin="round"/>
<line x1="136.80" y1="579.00" x2="136.80" y2="582.00" stroke="#333" stroke-width="0.9" />
<line x1="144.91" y1="579.00" x2="144.91" y2="580.80" stroke="#555" stroke-width="0.7" />
<line x1="149.66" y1="579.00" x2="149.66" y2="580.80" stroke="#555" stroke-width="0.7" />
<line x1="153.03" y1="579.00" x2="153.03" y2="580.80" stroke="#555" stroke-width="0.7" />
<line x1="155.64" y1="579.00" x2="155.64" y2="580.80" stroke="#555" stroke-width="0.7" />
<line x1="157.77" y1="579.00" x2="157.77" y2="580.80" stroke="#555" stroke-width="0.7" />
<line x1="159.58" y1="579.00" x2="159.58" y2="580.80" stroke="#555" stroke-width="0.7" />
<line x1="161.14" y1="579.00" x2="161.14" y2="580.80" stroke="#555" stroke-width="0.7" />
<line x1="162.52" y1="579.00" x2="162.52" y2="580.80" stroke="#555" stroke-width="0.7" />
<line x1="163.75" y1="579.00" x2="163.75" y2="582.00" stroke="#333" stroke-width="0.9" />
<line x1="171.86" y1="579.00" x2="171.86" y2="580.80" stroke="#555" stroke-width="0.7" />
<line x1="176.61" y1="579.00" x2="176.61" y2="580.80" stroke="#555" stroke-width="0.7" />
<line x1="179.98" y1="579.00" x2="179.98" y2="580.80" stroke="#555" stroke-width="0.7" />
<line x1="182.59" y1="579.00" x2="182.59" y2="580.80" stroke="#555" stroke-width="0.7" />
<line x1="184.72" y1="579.00" x2="184.72" y2="580.80" stroke="#555" stroke-width="0.7" />
<line x1="186.53" y1="579.00" x2="186.53" y2="580.80" stroke="#555" stroke-width="0.7" />
<line x1="188.09" y1="579.00" x2="188.09" y2="580.80" stroke="#555" stroke-width="0.7" />
<line x1="189.47" y1="579.00" x2="189.47" y2="580.80" stroke="#555" stroke-width="0.7" />
<line x1="190.70" y1="579.00" x2="190.70" y2="582.00" stroke="#333" stroke-width="0.9" />
<line x1="198.81" y1="579.00" x2="198.81" y2="580.80" stroke="#555" stroke-width="0.7" />
<line x1="203.56" y1="579.00" x2="203.56" y2="580.80" stroke="#555" stroke-width="0.7" />
<line x1="206.93" y1="579.00" x2="206.93" y2="580.80" stroke="#555" stroke-width="0.7" />
<line x1="209.54" y1="579.00" x2="209.54" y2="580.80" stroke="#555" stroke-width="0.7" />
<line x1="211.67" y1="579.00" x2="211.67" y2="580.80" stroke="#555" stroke-width="0.7" />
<line x1="213.48" y1="579.00" x2="213.48" y2="580.80" stroke="#555" stroke-width="0.7" />
<line x1="215.04" y1="579.00" x2="215.04" y2="580.80" stroke="#555" stroke-width="0.7" />
<line x1="216.42" y1="579.00" x2="216.42" y2="580.80" stroke="#555" stroke-width="0.7" />
<line x1="217.65" y1="579.00" x2="217.65" y2="582.00" stroke="#333" stroke-width="0.9" />
<line x1="225.76" y1="579.00" x2="225.76" y2="580.80" stroke="#555" stroke-width="0.7" />
<line x1="230.51" y1="579.00" x2="230.51" y2="580.80" stroke="#555" stroke-width="0.7" />
<line x1="233.88" y1="579.00" x2="233.88" y2="580.80" stroke="#555" stroke-width="0.7" />
<line x1="236.49" y1="579.00" x2="236.49" y2="580.80" stroke="#555" stroke-width="0.7" />
<line x1="238.62" y1="579.00" x2="238.62" y2="580.80" stroke="#555" stroke-width="0.7" />
<line x1="240.43" y1="579.00" x2="240.43" y2="580.80" stroke="#555" stroke-width="0.7" />
<line x1="241.99" y1="579.00" x2="241.99" y2="580.80" stroke="#555" stroke-width="0.7" />
<line x1="243.37" y1="579.00" x2="243.37" y2="580.80" stroke="#555" stroke-width="0.7" />
<line x1="244.60" y1="579.00" x2="244.60" y2="582.00" stroke="#333" stroke-width="0.9" />
<text x="138.60" y="590.10" font-size="6.0" text-anchor="start" font-weight="bold" font-style="normal" fill="#222" >10<tspan font-size="4.6" dy="-4.4" dx="0.3">0</tspan></text>
<text x="161.70" y="590.10" font-size="6.0" text-anchor="start" font-weight="bold" font-style="normal" fill="#222" >10<tspan font-size="4.6" dy="-4.4" dx="0.3">1</tspan></text>
<text x="188.30" y="590.10" font-size="6.0" text-anchor="start" font-weight="bold" font-style="normal" fill="#222" >10<tspan font-size="4.6" dy="-4.4" dx="0.3">2</tspan></text>
<text x="214.80" y="590.10" font-size="6.0" text-anchor="start" font-weight="bold" font-style="normal" fill="#222" >10<tspan font-size="4.6" dy="-4.4" dx="0.3">3</tspan></text>
<text x="241.40" y="590.10" font-size="6.0" text-anchor="start" font-weight="bold" font-style="normal" fill="#222" >10<tspan font-size="4.6" dy="-4.4" dx="0.3">4</tspan></text>
<text x="129.20" y="579.00" font-size="5.0" text-anchor="start" font-weight="bold" font-style="normal" fill="#222" >0</text>
<line x1="122.50" y1="476.00" x2="122.50" y2="500.80" stroke="#222" stroke-width="1.0" />
<path d="M120.7,477.5 L122.5,472.5 L124.3,477.5 z" fill="#222"/>
<line x1="122.50" y1="555.40" x2="122.50" y2="580.20" stroke="#222" stroke-width="1.0" />
<text transform="translate(125.70,528.80) rotate(-90)" x="0" y="0" font-size="8.2" text-anchor="middle" font-weight="bold" fill="#111">Cell count</text>
<line x1="139.40" y1="598.10" x2="173.00" y2="598.10" stroke="#222" stroke-width="1.0" />
<line x1="211.60" y1="598.10" x2="244.00" y2="598.10" stroke="#222" stroke-width="1.0" />
<path d="M242.5,596.3 L247.5,598.1 L242.5,599.9 z" fill="#222"/>
<text x="192.00" y="601.60" font-size="8.7" text-anchor="middle" font-weight="bold" font-style="normal" fill="#111" >CFSE</text>
</svg>
</body></html>
